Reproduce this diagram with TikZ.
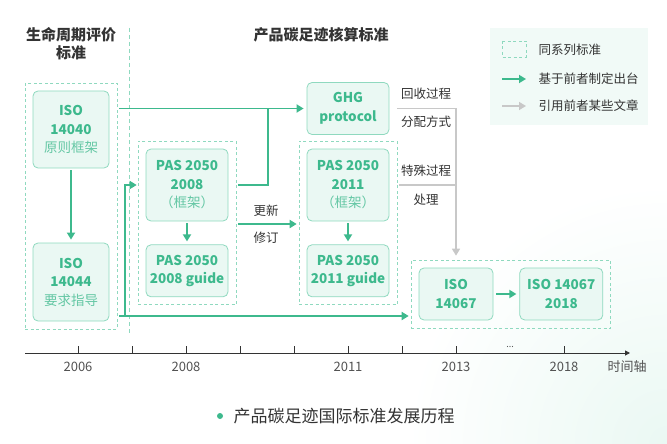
\documentclass[tikz,border=0pt]{standalone}
\usepackage{fontspec}
\setmainfont{Noto Sans CJK SC}
\usepackage{tikz}
\usetikzlibrary{arrows.meta, positioning, fit, calc}
\definecolor{mintgreen}{HTML}{3DB98D}
\definecolor{mintline}{HTML}{8FD9BF}
\definecolor{mintfill}{HTML}{EAF8F3}
\definecolor{legendfill}{HTML}{F1FAF7}
\definecolor{mintback}{HTML}{EAF8F3}
\definecolor{refgray}{HTML}{C8C8C8}
\definecolor{darktext}{HTML}{333333}

\begin{document}
\begin{tikzpicture}[
  x=1pt, y=-1pt,
  std/.style={rectangle, rounded corners=5pt, draw=mintline, fill=mintfill, line width=0.8pt, text=mintgreen, font=\fontsize{13.5}{18.5}\selectfont\bfseries, align=center, minimum width=82pt, minimum height=52pt, inner sep=0pt},
  series/.style={draw=mintline, dash pattern=on 3pt off 2.5pt, line width=0.8pt, inner sep=7.5pt},
  based/.style={-{Triangle[length=7pt,width=8pt]}, draw=mintgreen, line width=1.8pt},
  cited/.style={-{Triangle[length=7pt,width=8pt]}, draw=refgray, line width=1.5pt},
  note/.style={text=darktext, font=\fontsize{12.5}{14}\selectfont},
  title/.style={text=darktext, font=\fontsize{15}{18}\selectfont\bfseries, align=center},
  year/.style={text=darktext!85, font=\fontsize{13}{14}\selectfont},
  axis/.style={draw=darktext, line width=1pt}
]
  \useasboundingbox (0,0) rectangle (667,444);
  \begin{scope}
    \clip (0,0) rectangle (667,444);
    \shade[inner color=mintback, outer color=white] (667,444) circle (260);
  \end{scope}

  \node[title] (lca) at (71,44) {生命周期评价\\标准};
  \node[title] (pcf) at (321,35) {产品碳足迹核算标准};
  \draw[mintline, line width=0.8pt, dash pattern=on 4pt off 3pt] (129,28) -- (129,333);

  \fill[legendfill] (490,28) rectangle (648,125);
  \draw[series] (502,41) rectangle (526,57);
  \node[note, anchor=west] (key1) at (535,50) {同系列标准};
  \draw[based] (502,79) -- (526,79);
  \node[note, anchor=west] (key2) at (535,79) {基于前者制定出台};
  \draw[cited] (502,106) -- (526,106);
  \node[note, anchor=west] (key3) at (535,106) {引用前者某些文章};

  \node[std, minimum width=76pt, minimum height=77pt] (iso40) at (71,129.5) {ISO\\14040\\{\mdseries\color{mintgreen!80} 原则框架}};
  \node[std, minimum width=76pt, minimum height=78pt] (iso44) at (71,282) {ISO\\14044\\{\mdseries\color{mintgreen!80} 要求指导}};
  \node[std] (ghg) at (348,108.5) {GHG\\protocol};
  \node[std, minimum height=72pt] (pas08) at (187,185) {PAS 2050\\2008\\{\mdseries\color{mintgreen!80} （框架）}};
  \node[std, below=23pt of pas08] (pas08g) {PAS 2050\\2008 guide};
  \node[std, minimum height=72pt] (pas11) at (348,185) {PAS 2050\\2011\\{\mdseries\color{mintgreen!80} （框架）}};
  \node[std, below=23pt of pas11] (pas11g) {PAS 2050\\2011 guide};
  \node[std, minimum width=74pt] (iso67) at (456,294) {ISO\\14067};
  \node[std, minimum width=83pt, right=26pt of iso67] (iso18) {ISO 14067\\2018};

  \node[series, fit=(iso40)(iso44)] (g06) {};
  \node[series, fit=(pas08)(pas08g)] (g08) {};
  \node[series, fit=(pas11)(pas11g)] (g11) {};
  \node[series, fit=(iso67)(iso18)] (g13) {};

  \coordinate (j1) at (268,108.5);
  \coordinate (j2) at (125,316);
  \coordinate (upd) at (266,224);
  \coordinate (j3) at (iso67 |- ghg);

  \draw[based, shorten <=2pt, shorten >=3pt] (iso40) -- (iso44);
  \draw[based, shorten >=3pt] ([xshift=2pt]g06.east |- ghg) -- (ghg);
  \draw[based, -] ([xshift=2pt]g08.east |- pas08) -| (j1);
  \draw[based, shorten >=2pt] ([xshift=2pt]g06.east |- j2) -- (g13.west |- j2);
  \draw[based] (j2) |- ([xshift=-1pt]g08.west |- pas08);
  \draw[based, shorten <=2pt, shorten >=2pt] (g08.east |- upd) -- (g11.west |- upd);
  \node[note, above=4pt of upd] (upd1) {更新};
  \node[note, below=4pt of upd] (upd2) {修订};
  \draw[based, shorten <=2pt, shorten >=3pt] (pas08) -- (pas08g);
  \draw[based, shorten <=2pt, shorten >=3pt] (pas11) -- (pas11g);
  \draw[based, shorten <=3pt, shorten >=3pt] (iso67) -- (iso18);

  \draw[cited, shorten >=4pt] ([xshift=8pt]ghg.east) -| (g13.north -| j3);
  \draw[cited, -] ([xshift=2pt]g11.east |- pas11) -- (j3 |- pas11);
  \node[note] (rec1) at (426,94) {回收过程};
  \node[note] (rec2) at (426,122) {分配方式};
  \node[note] (spc1) at (426,171) {特殊过程};
  \node[note] (spc2) at (426,200) {处理};

  \draw[axis, -{Triangle[length=5pt,width=5pt]}] (25,353) -- (630,353);
  \foreach \i in {0,...,7,9}
    \draw[axis] (78+54*\i,353) -- (78+54*\i,346);
  \foreach \i/\yr in {0/2006,2/2008,5/2011,7/2013,9/2018}
    \node[year] at (78+54*\i,367) {\yr};
  \node[year, font=\fontsize{9}{10}\selectfont] (more) at (510,347) {...};
  \node[year] (tl) at (627,367) {时间轴};

  \fill[mintgreen] (220,416) circle (3pt);
  \node[anchor=west, text=darktext, font=\fontsize{17}{20}\selectfont] (cap) at (230,416) {产品碳足迹国际标准发展历程};
\end{tikzpicture}
\end{document}
